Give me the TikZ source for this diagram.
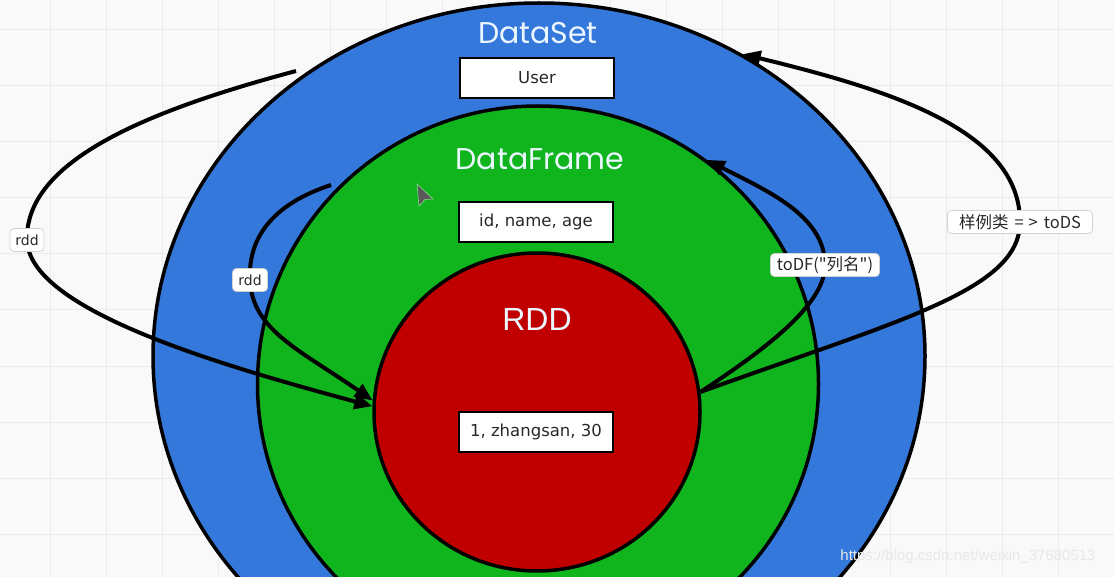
\documentclass[tikz,border=0pt]{standalone}
\usepackage{fontspec}
\setmainfont{DejaVu Sans}
\newfontfamily\cjk{Noto Sans CJK SC}
\newfontfamily\titlefont{Poppins}
\newfontfamily\wmfont{Liberation Sans}
\usetikzlibrary{shapes.geometric,arrows.meta}
\definecolor{dsblue}{RGB}{52,120,220}
\definecolor{dfgreen}{RGB}{16,181,30}
\definecolor{rddred}{RGB}{192,0,0}
\definecolor{bgc}{RGB}{249,249,249}
\definecolor{gridc}{RGB}{234,234,234}
\definecolor{lbltext}{RGB}{40,40,40}
\definecolor{titlec}{RGB}{236,246,255}
\begin{document}
\begin{tikzpicture}[x=1pt,y=-1pt,
  circ/.style={ellipse, draw=black, line width=3.5pt, inner sep=0pt},
  titletext/.style={font=\titlefont\fontsize{30}{33}\selectfont, text=titlec},
  databox/.style={draw=black, line width=2.5pt, fill=white, minimum width=154pt,
    minimum height=40pt, font=\fontsize{16.5}{19}\selectfont, text=lbltext, inner sep=0pt},
  lbl/.style={fill=white, draw=gray!35, rounded corners=4pt, line width=0.8pt,
    font=\fontsize{14}{16}\selectfont, text=lbltext, inner sep=2pt, minimum height=23pt},
  cjklbl/.style={lbl, font=\cjk\fontsize{16.5}{18}\selectfont},
  conn/.style={line width=4pt, draw=black, -{Triangle[length=18pt,width=15pt]}},
]
\useasboundingbox (0,0) rectangle (1114,577);
\clip (0,0) rectangle (1114,577);
\fill[bgc] (0,0) rectangle (1114,577);
\foreach \x in {50,106,...,1114} \draw[gridc, line width=1pt] (\x,0) -- (\x,577);
\foreach \y in {30,86,...,577} \draw[gridc, line width=1pt] (0,\y) -- (1114,\y);

% nested sets
\node[circ, fill=dsblue, minimum width=772pt, minimum height=706pt] (ds) at (539,356) {};
\node[circ, fill=dfgreen, minimum width=561pt, minimum height=556pt] (df) at (538,384) {};
\node[circ, fill=rddred, minimum width=326pt, minimum height=318pt] (rdd) at (537,412) {};

% titles
\node[titletext] (dstitle) at (538,33) {DataSet};
\node[titletext] (dftitle) at (540,159) {DataFrame};
\node[titletext, font=\wmfont\fontsize{32}{35}\selectfont] (rddtitle) at (537,319) {RDD};

% data boxes
\node[databox] (user) at (537,78) {User};
\node[databox] (cols) at (536,222) {id, name, age};
\node[databox] (row) at (536,432) {1, zhangsan, 30};

% free ends
\coordinate (s1) at (296,71);
\coordinate (s2) at (331,185);

% connectors
\draw[conn] (s1) .. controls (150,110) and (25,160) .. (27,240)
  node[lbl, minimum width=34pt] (l1) {rdd}
  .. controls (29,310) and (220,365) .. (rdd.178);
\draw[conn] (s2) .. controls (270,205) and (248,240) .. (250,280)
  node[lbl, minimum width=35pt] (l2) {rdd}
  .. controls (252,330) and (300,350) .. (rdd.176);
\draw[conn] (rdd.7) .. controls (900,320) and (1020,290) .. (1020,222)
  node[cjklbl, minimum width=145pt] (l3) {样例类\hspace{6pt}=\hspace{5pt}>\hspace{6pt}toDS}
  .. controls (1020,130) and (890,90) .. (ds.56);
\draw[conn] (rdd.7) .. controls (780,340) and (825,300) .. (825,265)
  node[cjklbl, minimum width=109pt] (l4) {toDF("列名")}
  .. controls (825,215) and (765,190) .. (df.53);

% mouse pointer
\filldraw[fill=black!65, draw=dfgreen!50!white, line width=0.6pt]
  (417,184) -- (433,199) -- (425,199.5) -- (419,206) -- cycle;

% watermark
\node[font=\wmfont\fontsize{15}{17}\selectfont, text=white!82!gray] (wm) at (968,557)
  {https://blog.csdn.net/weixin\_37680513};
\end{tikzpicture}
\end{document}
